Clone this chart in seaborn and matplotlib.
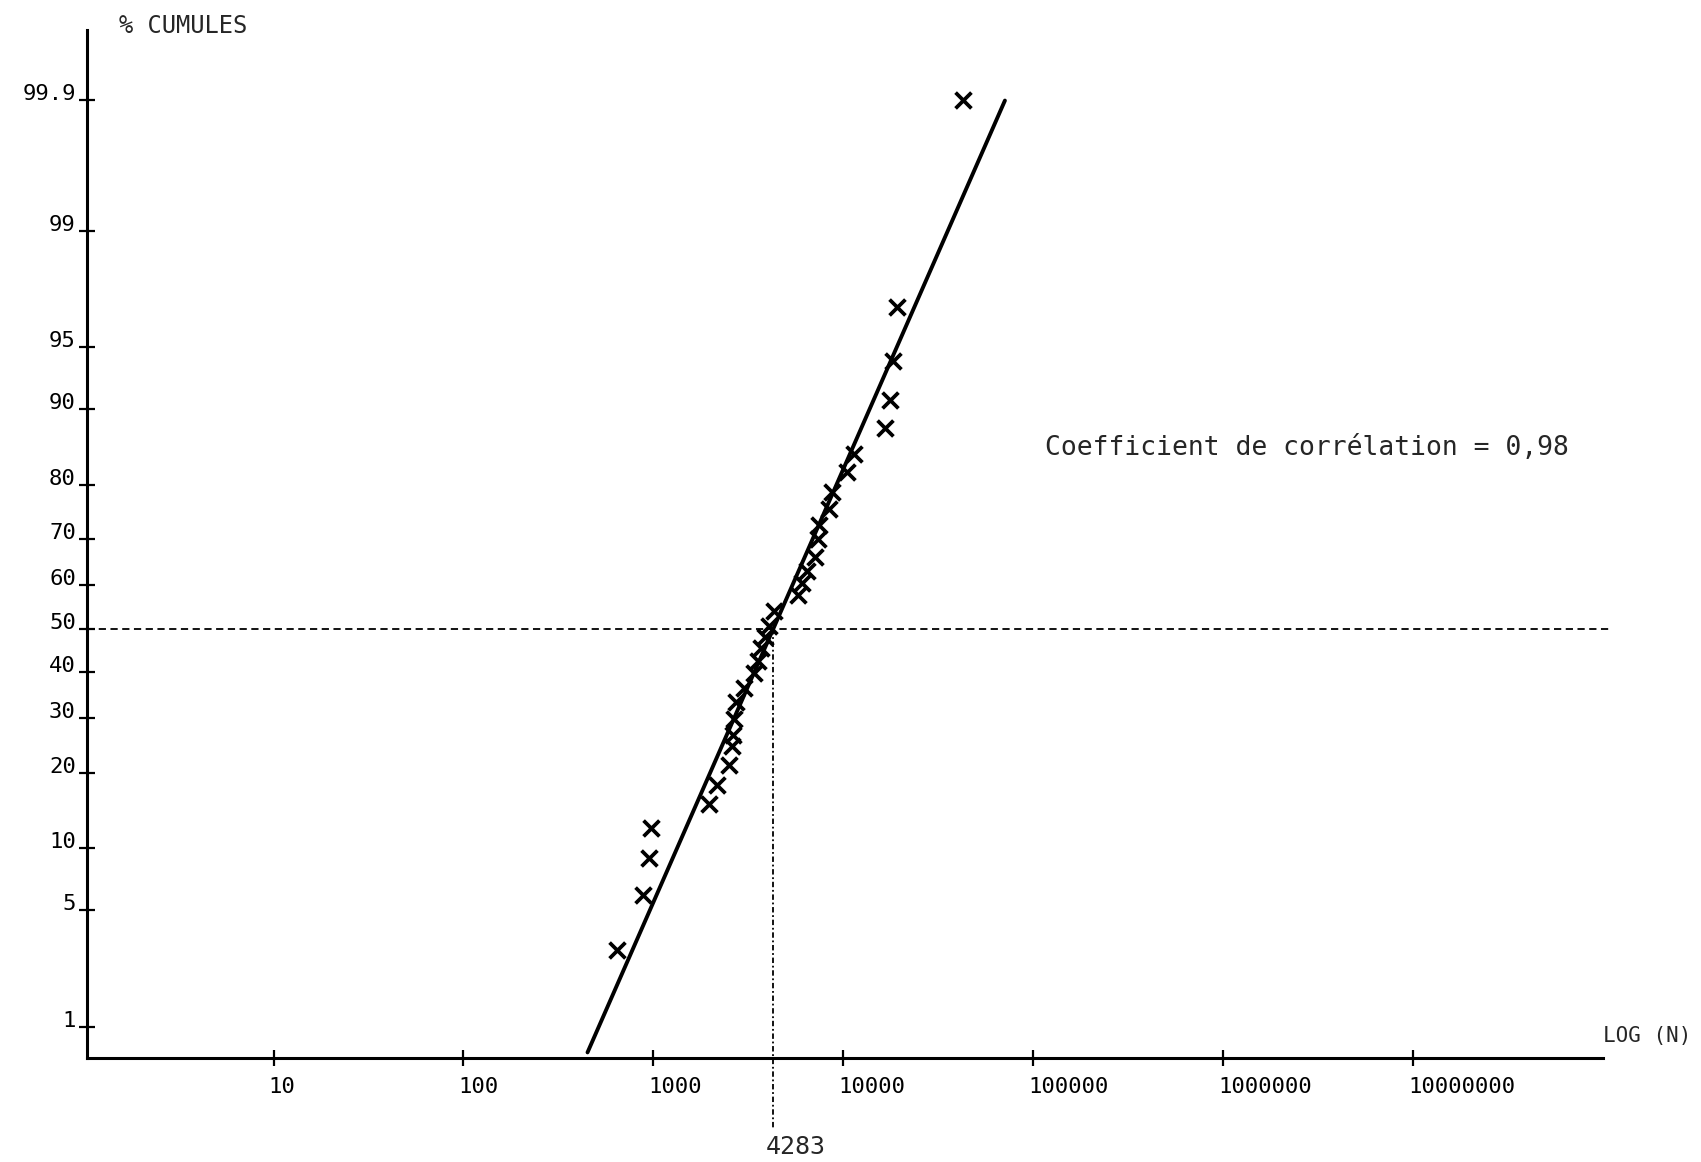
import numpy as np
import matplotlib
matplotlib.use("Agg")
import matplotlib.pyplot as plt
import matplotlib.transforms as mtransforms
from matplotlib.ticker import FixedLocator, NullLocator
import seaborn as sns
from statistics import NormalDist

# values (N, cumulative %)
N_VALUES = [644, 887, 953, 975, 1970, 2160, 2490, 2610, 2640, 2670, 2730,
            2990, 3400, 3570, 3710, 3850, 4050, 4320, 5750, 6050, 6460,
            7060, 7320, 7490, 8410, 8730, 10450, 11430, 16630, 17690,
            18270, 19100, 42750]
PCT_VALUES = [3.0, 6.0, 9.0, 12.2, 15.3, 18.0, 21.2, 24.7, 26.7, 29.9, 33.3,
              36.4, 39.8, 42.6, 45.6, 48.1, 50.7, 54.0, 57.8, 60.5, 63.2,
              66.3, 69.9, 72.7, 75.8, 78.7, 82.0, 84.7, 88.0, 90.9,
              94.1, 97.0, 99.9]

# fitted log-normal line
MEDIAN_N = 4283
SIGMA_LOG10 = 0.395
FIT_N = [450, 71000]

Y_TICKS = [1, 5, 10, 20, 30, 40, 50, 60, 70, 80, 90, 95, 99, 99.9]
Y_TICK_LABELS = ["1", "5", "10", "20", "30", "40", "50", "60", "70", "80",
                 "90", "95", "99", "99.9"]
X_TICKS = [10, 100, 1000, 10000, 100000, 1000000, 10000000]
X_TICK_LABELS = ["10", "100", "1000", "10000", "100000", "1000000", "10000000"]

ND = NormalDist()
_inv = np.vectorize(ND.inv_cdf, otypes=[float])
_cdf = np.vectorize(ND.cdf, otypes=[float])


def pct_to_z(p):
    p = np.clip(np.asarray(p, dtype=float) / 100.0, 1e-12, 1 - 1e-12)
    return _inv(p)


def z_to_pct(z):
    return _cdf(np.asarray(z, dtype=float)) * 100.0


def fit_pct(n):
    z = (np.log10(n) - np.log10(MEDIAN_N)) / SIGMA_LOG10
    return z_to_pct(z)


sns.set_style("ticks")
mono = ["DejaVu Sans Mono"]

fig = plt.figure(figsize=(17.01, 11.62), dpi=100)
ax = fig.add_axes([0.0511, 0.0895, 0.8912, 0.8847])

sns.scatterplot(x=N_VALUES, y=PCT_VALUES, marker="x", color="black",
                s=130, linewidth=2.7, ax=ax, zorder=3)
fit_n = np.array(FIT_N, dtype=float)
sns.lineplot(x=fit_n, y=fit_pct(fit_n), color="black", linewidth=2.8, ax=ax,
             clip_on=False)

ax.set_xscale("log")
ax.set_yscale("function", functions=(pct_to_z, z_to_pct))
ax.set_xlim(1.04, 1.0e8)
ax.set_ylim(float(z_to_pct(-2.51)), float(z_to_pct(3.5)))

# 50% reference lines
ax.axhline(50, xmin=0, xmax=1.005, color="black", linewidth=1.3,
           linestyle=(0, (4, 2.5)), clip_on=False)
y50 = (0 + 2.51) / (3.5 + 2.51)
ax.plot([MEDIAN_N, MEDIAN_N], [y50, -0.068], color="black", linewidth=1.3,
        linestyle=(0, (3, 1.5, 1, 1.5)), clip_on=False,
        transform=ax.get_xaxis_transform())

ax.xaxis.set_major_locator(FixedLocator(X_TICKS))
ax.xaxis.set_minor_locator(NullLocator())
ax.set_xticklabels(X_TICK_LABELS, family=mono, fontsize=16, ha="left")
ax.yaxis.set_major_locator(FixedLocator(Y_TICKS))
ax.yaxis.set_minor_locator(NullLocator())
ax.set_yticklabels(Y_TICK_LABELS, family=mono, fontsize=16, va="baseline")
ax.tick_params(axis="both", direction="inout", length=12, width=1.6,
               color="black", labelcolor="black", bottom=True, left=True)
ax.tick_params(axis="x", pad=8)
ax.tick_params(axis="y", pad=2)
for lab in ax.get_xticklabels():
    lab.set_transform(lab.get_transform() +
                      mtransforms.ScaledTranslation(-5 / 100, 0, fig.dpi_scale_trans))

sns.despine(ax=ax)
for side in ["left", "bottom"]:
    ax.spines[side].set_linewidth(2.2)
    ax.spines[side].set_color("black")

ax.set_xlabel("")
ax.set_ylabel("")
ax.text(0.021, 1.004, "% CUMULES", transform=ax.transAxes, ha="left",
        va="center", family=mono, fontsize=17)
ax.text(1.0, 0.021, "LOG (N)", transform=ax.transAxes, ha="left",
        va="center", family=mono, fontsize=15)
ax.text(0.632, 0.593, "Coefficient de corrélation = 0,98",
        transform=ax.transAxes, ha="left", va="center", family=mono,
        fontsize=19)
txt = ax.text(MEDIAN_N, -0.0866, "4283", transform=ax.get_xaxis_transform(),
              ha="left", va="center", family=mono, fontsize=18)
txt.set_transform(txt.get_transform() +
                  mtransforms.ScaledTranslation(-8 / 100, 0, fig.dpi_scale_trans))

fig.savefig("out.png", dpi=100, facecolor="white")
